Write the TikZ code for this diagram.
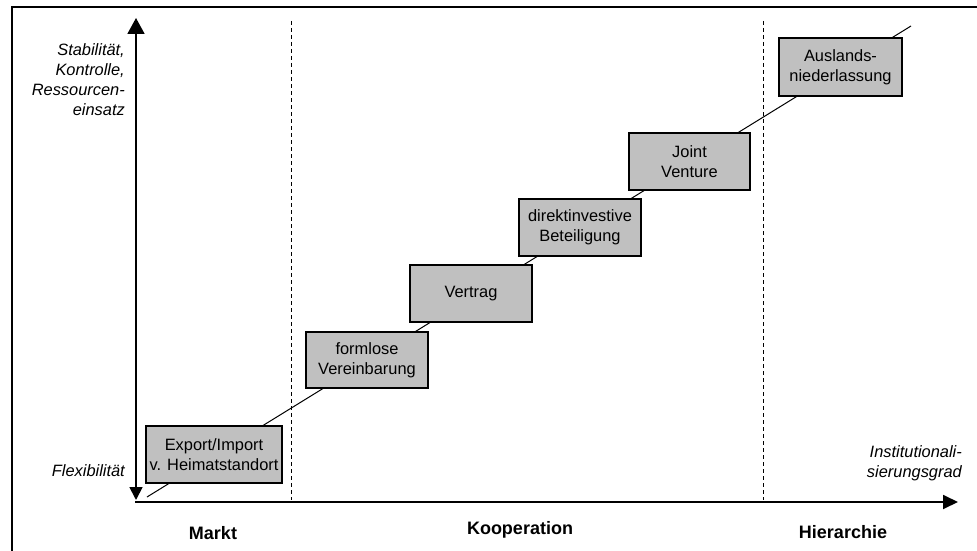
\documentclass[tikz,border=0pt]{standalone}
\usepackage{fontspec}
\setmainfont{Liberation Sans}
\usetikzlibrary{arrows.meta}
\definecolor{boxgray}{RGB}{192,192,192}
\begin{document}
\begin{tikzpicture}[x=1pt,y=-1pt,
  stage/.style={draw=black, line width=1.2pt, fill=boxgray, minimum width=122pt,
    minimum height=57pt, inner sep=0pt, align=center,
    font=\fontsize{16.4}{20}\selectfont},
  axislbl/.style={inner sep=0pt, align=right, font=\fontsize{16.4}{20}\selectfont\itshape},
  zonelbl/.style={inner sep=0pt, font=\fontsize{18}{20}\selectfont\bfseries},
  axisline/.style={line width=1.8pt},
  divider/.style={line width=1pt, dash pattern=on 4pt off 3pt},
  trend/.style={line width=1pt},
  frameline/.style={line width=2.5pt}
]
\useasboundingbox (0,0) rectangle (977,551);
\clip (0,0) rectangle (977,551);
\fill[white] (0,0) rectangle (977,551);
% outer frame (cut off at right and bottom)
\draw[frameline] (12,7) rectangle (1000,580);

% coordinates
\coordinate (ytop) at (136,18);
\coordinate (ybot) at (136,500);
\coordinate (xstart) at (135,502);
\coordinate (xend) at (958,502);
\coordinate (d1t) at (291,21);
\coordinate (d1b) at (291,500);
\coordinate (d2t) at (763,21);
\coordinate (d2b) at (763,500);
\coordinate (ds) at (147,497);
\coordinate (de) at (911,26);

% dividers
\draw[divider] (d1t) -- (d1b);
\draw[divider] (d2t) -- (d2b);

% axes
\draw[axisline, {Triangle[length=13pt,width=13pt]}-{Triangle[length=16pt,width=17pt]}] (ybot) -- (ytop);
\draw[axisline, -{Triangle[length=15pt,width=14pt]}] (xstart) -- (xend);

% trend line
\draw[trend] (ds) -- (de);

% stages
\node[stage, minimum width=136pt] (exp) at (214,454.5) {Export/Import\\v. Heimatstandort};
\node[stage, minimum height=56pt] (form) at (367,360) {formlose\\Vereinbarung};
\node[stage] (vert) at (471,293.5) {Vertrag};
\node[stage] (dir) at (580,227.5) {direktinvestive\\Beteiligung};
\node[stage, minimum width=121pt] (jv) at (689.5,161.5) {Joint\\Venture};
\node[stage, minimum width=123pt, minimum height=58pt] (aus) at (840.5,67) {Auslands-\\niederlassung};

% axis labels
\node[axislbl, anchor=east] (ylab) at (125,80) {Stabilität,\\Kontrolle,\\Ressourcen-\\einsatz};
\node[axislbl, anchor=east] (flex) at (125,471) {Flexibilität};
\node[axislbl, anchor=east] (xlab) at (962,463) {Institutionali-\\sierungsgrad};

% zone labels
\node[zonelbl, anchor=base] (markt) at (213,539) {Markt};
\node[zonelbl, anchor=base] (koop) at (520,534) {Kooperation};
\node[zonelbl, anchor=base] (hier) at (843,538) {Hierarchie};
\end{tikzpicture}
\end{document}
